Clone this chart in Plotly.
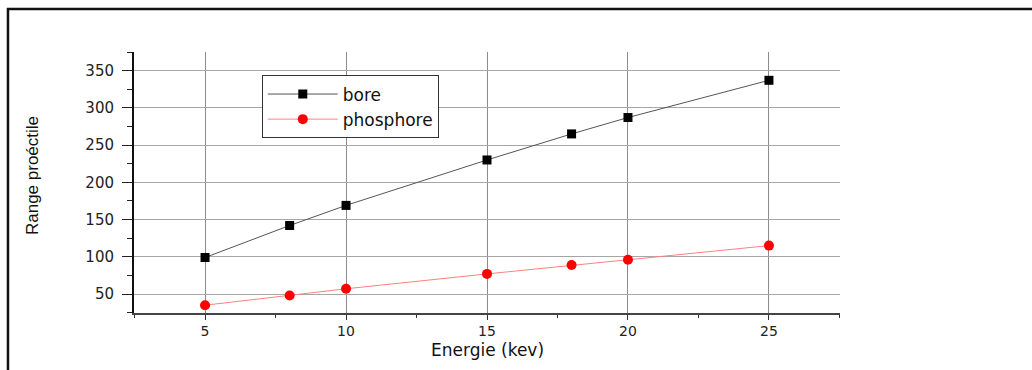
import plotly.graph_objects as go

energie = [5, 8, 10, 15, 18, 20, 25]
bore = [99, 142, 169, 230, 265, 287, 337]
phosphore = [35, 48, 57, 77, 89, 96, 115]

x_ticks = [5, 10, 15, 20, 25]
y_ticks = [50, 100, 150, 200, 250, 300, 350]

fig = go.Figure()
fig.add_trace(go.Scatter(
    x=energie, y=bore, mode="lines+markers", name="bore",
    line=dict(color="#555555", width=1),
    marker=dict(symbol="square", size=9, color="black"),
))
fig.add_trace(go.Scatter(
    x=energie, y=phosphore, mode="lines+markers", name="phosphore",
    line=dict(color="#ff8080", width=1),
    marker=dict(symbol="circle", size=10, color="red"),
))

font_main = "DejaVu Sans, sans-serif"
font_narrow = "'Liberation Sans Narrow', 'Liberation Sans', sans-serif"

fig.update_layout(
    width=1032, height=370,
    margin=dict(l=134, r=192, t=52, b=57),
    paper_bgcolor="white", plot_bgcolor="white",
    font=dict(family=font_main, color="#111111"),
    showlegend=True,
    legend=dict(
        x=0.181, y=0.91, xanchor="left", yanchor="top",
        bordercolor="#333333", borderwidth=1, bgcolor="white",
        font=dict(size=17, family=font_main, color="#111111"),
        tracegroupgap=0, itemwidth=70,
    ),
    xaxis=dict(
        range=[2.48, 27.52], tickmode="array", tickvals=x_ticks,
        ticks="outside", ticklen=5, tickwidth=1, tickcolor="#333333",
        showline=True, linecolor="#444444", linewidth=1.5,
        showgrid=True, gridcolor="#8c8c8c", gridwidth=1,
        zeroline=False, ticklabelstandoff=-1,
        tickfont=dict(size=14, family=font_main, color="#222222"),
        minor=dict(ticks="outside", ticklen=3, dtick=2.5, tick0=2.5, tickcolor="#333333", showgrid=False),
    ),
    yaxis=dict(
        range=[24.5, 375], tickmode="array", tickvals=y_ticks,
        ticks="outside", ticklen=10, tickwidth=1, tickcolor="#222222",
        showline=True, linecolor="#111111", linewidth=2,
        showgrid=True, gridcolor="#a6a6a6", gridwidth=1,
        zeroline=False, ticklabelstandoff=5,
        tickfont=dict(size=15, family=font_main, color="#222222"),
        minor=dict(ticks="outside", ticklen=5, dtick=25, tick0=25, tickcolor="#222222", showgrid=False),
    ),
    annotations=[
        dict(text="Energie (kev)", xref="paper", yref="paper", x=0.5, y=-0.142,
             xanchor="center", yanchor="middle", showarrow=False,
             font=dict(size=17, family=font_main, color="#111111")),
        dict(text="Range proéctile", xref="paper", yref="paper", x=-0.143, y=0.525,
             xanchor="center", yanchor="middle", showarrow=False, textangle=-90,
             font=dict(size=17, family=font_narrow, color="#111111")),
    ],
)

# outer frame
fig.add_shape(type="rect", xref="paper", yref="paper",
              x0=-0.1785, x1=2.0, y0=-0.4, y1=1.1648,
              line=dict(color="#111111", width=2.5), layer="below")

fig.write_html("out.html")
